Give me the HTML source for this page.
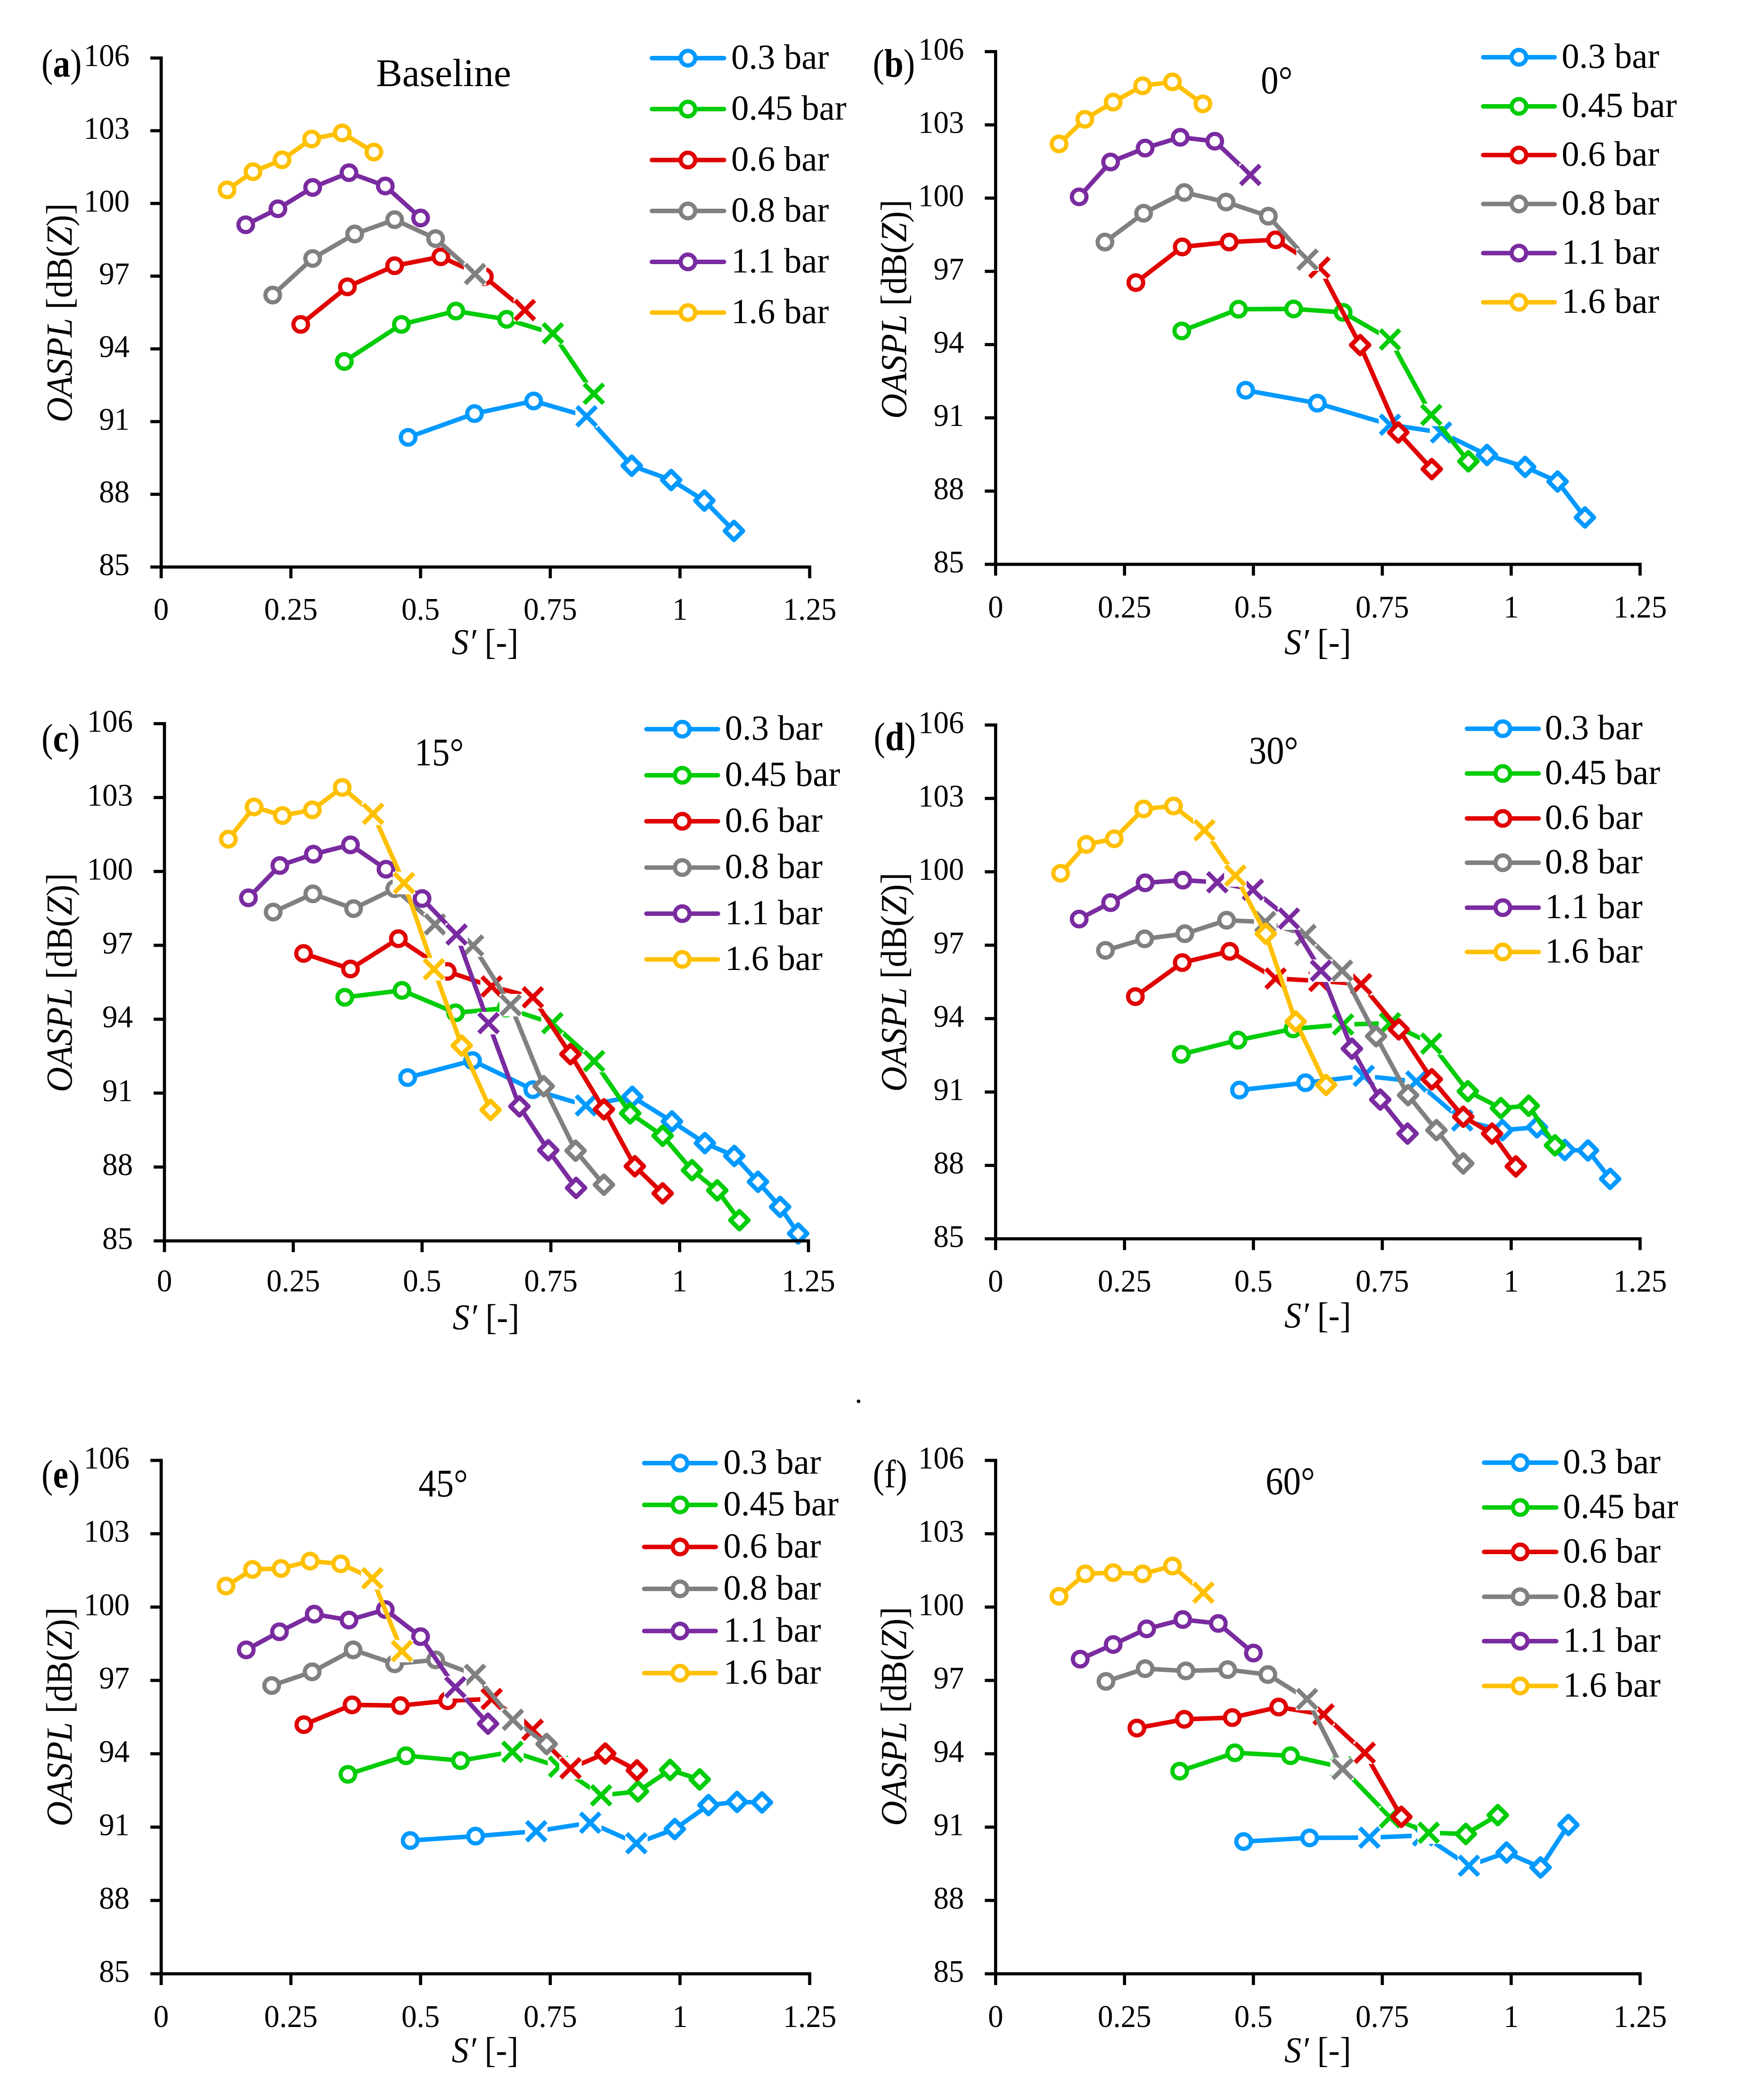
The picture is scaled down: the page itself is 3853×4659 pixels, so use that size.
<!DOCTYPE html>
<html lang="en">
<head>
<meta charset="utf-8">
<title>OASPL versus S′ panels</title>
<style>
html,body{margin:0;padding:0;background:#fff;}
svg{display:block;}
text{font-family:"Liberation Serif","DejaVu Serif",serif;fill:#000;}
</style>
</head>
<body>
<svg id="figure" xmlns="http://www.w3.org/2000/svg" width="3853" height="4659" viewBox="0 0 3853 4659">
<rect x="0" y="0" width="3853" height="4659" fill="#fff"/>

<g font-size="82">
<text transform="translate(92,170) scale(.87,1)" font-size="88">(<tspan font-weight="bold">a</tspan>)</text>
<text x="984" y="191" text-anchor="middle" font-size="87">Baseline</text>
<text transform="translate(159,694) rotate(-90) scale(.94,1)" text-anchor="middle"><tspan font-style="italic">OASPL</tspan> [dB(<tspan font-style="italic">Z</tspan>)]</text>
<text transform="translate(1076,1451) scale(.94,1)" text-anchor="middle" font-size="80"><tspan font-style="italic">S′</tspan> [-]</text>
</g>

<g font-size="82">
<text transform="translate(1936,170) scale(.87,1)" font-size="88">(<tspan font-weight="bold">b</tspan>)</text>
<text transform="translate(2832,207) scale(.9,1)" text-anchor="middle" font-size="87">0°</text>
<text transform="translate(2010,686) rotate(-90) scale(.94,1)" text-anchor="middle"><tspan font-style="italic">OASPL</tspan> [dB(<tspan font-style="italic">Z</tspan>)]</text>
<text transform="translate(2923,1451) scale(.94,1)" text-anchor="middle" font-size="80"><tspan font-style="italic">S′</tspan> [-]</text>
</g>

<g font-size="82">
<text transform="translate(92,1667) scale(.87,1)" font-size="88">(<tspan font-weight="bold">c</tspan>)</text>
<text transform="translate(974,1698) scale(.9,1)" text-anchor="middle" font-size="87">15°</text>
<text transform="translate(159,2180) rotate(-90) scale(.94,1)" text-anchor="middle"><tspan font-style="italic">OASPL</tspan> [dB(<tspan font-style="italic">Z</tspan>)]</text>
<text transform="translate(1078,2949) scale(.94,1)" text-anchor="middle" font-size="80"><tspan font-style="italic">S′</tspan> [-]</text>
</g>

<g font-size="82">
<text transform="translate(1938,1664) scale(.87,1)" font-size="88">(<tspan font-weight="bold">d</tspan>)</text>
<text transform="translate(2825,1694) scale(.9,1)" text-anchor="middle" font-size="87">30°</text>
<text transform="translate(2010,2179) rotate(-90) scale(.94,1)" text-anchor="middle"><tspan font-style="italic">OASPL</tspan> [dB(<tspan font-style="italic">Z</tspan>)]</text>
<text transform="translate(2923,2945) scale(.94,1)" text-anchor="middle" font-size="80"><tspan font-style="italic">S′</tspan> [-]</text>
</g>

<text x="1896" y="3112" font-size="68">.</text>

<g font-size="82">
<text transform="translate(92,3300) scale(.87,1)" font-size="88">(<tspan font-weight="bold">e</tspan>)</text>
<text transform="translate(983,3320) scale(.9,1)" text-anchor="middle" font-size="87">45°</text>
<text transform="translate(159,3809) rotate(-90) scale(.94,1)" text-anchor="middle"><tspan font-style="italic">OASPL</tspan> [dB(<tspan font-style="italic">Z</tspan>)]</text>
<text transform="translate(1076,4575) scale(.94,1)" text-anchor="middle" font-size="80"><tspan font-style="italic">S′</tspan> [-]</text>
</g>

<g font-size="82">
<text transform="translate(1936,3300) scale(.87,1)" font-size="88">(f)</text>
<text transform="translate(2862,3315) scale(.9,1)" text-anchor="middle" font-size="87">60°</text>
<text transform="translate(2010,3808) rotate(-90) scale(.94,1)" text-anchor="middle"><tspan font-style="italic">OASPL</tspan> [dB(<tspan font-style="italic">Z</tspan>)]</text>
<text transform="translate(2923,4575) scale(.94,1)" text-anchor="middle" font-size="80"><tspan font-style="italic">S′</tspan> [-]</text>
</g>
</svg>

<script>
// Shared categories and ticks
const pressureLabels = ['0.3 bar','0.45 bar','0.6 bar','0.8 bar','1.1 bar','1.6 bar'];
const xTickValues = [0,0.25,0.5,0.75,1,1.25];
const xTickLabels = ['0','0.25','0.5','0.75','1','1.25'];
const yTickValues = [85,88,91,94,97,100,103,106];
const yTickLabels = ['85','88','91','94','97','100','103','106'];

// Panel (a) Baseline
const panelA_x = [
 [.476,.604,.718,.820,.907,.983,1.047,1.104],
 [.353,.463,.568,.666,.755,.834],
 [.269,.359,.450,.539,.623,.701],
 [.215,.292,.373,.450,.529,.605],
 [.163,.225,.292,.362,.432,.500],
 [.127,.177,.233,.290,.349,.410]];
const panelA_y = [
 [90.35,91.33,91.85,91.22,89.18,88.59,87.74,86.49],
 [93.48,95.01,95.56,95.22,94.64,92.15],
 [95.01,96.56,97.43,97.80,96.98,95.60],
 [96.22,97.73,98.74,99.33,98.55,97.09],
 [99.12,99.78,100.66,101.27,100.72,99.40],
 [100.56,101.31,101.80,102.66,102.91,102.12]];
const panelA_m = ['oooxdddd','ooooxx','ooooox','ooooox','oooooo','oooooo'];

// Panel (b) 0 deg
const panelB_x = [
 [.485,.624,.765,.864,.953,1.027,1.090,1.143],
 [.361,.471,.578,.674,.765,.845,.917],
 [.272,.362,.453,.543,.628,.707,.781,.846],
 [.212,.287,.366,.447,.529,.605],
 [.162,.223,.290,.358,.425,.494],
 [.123,.173,.228,.285,.343,.402]];
const panelB_y = [
 [92.13,91.60,90.72,90.40,89.48,88.99,88.39,86.92],
 [94.56,95.45,95.46,95.32,94.21,91.12,89.22],
 [96.54,98.00,98.20,98.29,97.16,93.98,90.40,88.90],
 [98.20,99.38,100.23,99.84,99.26,97.48],
 [100.05,101.48,102.05,102.49,102.33,100.95],
 [102.22,103.23,103.93,104.60,104.76,103.86]];
const panelB_m = ['ooxxdddd','ooooxxd','ooooxddd','ooooox','ooooox','oooooo'];

// Panel (c) 15 deg
const panelC_x = [
 [.472,.598,.715,.818,.908,.985,1.049,1.106,1.152,1.195,1.230],
 [.350,.461,.565,.663,.753,.834,.904,.967,1.024,1.073,1.116],
 [.270,.361,.454,.549,.635,.715,.788,.853,.913,.967],
 [.211,.288,.367,.447,.525,.599,.672,.736,.798,.853],
 [.163,.224,.289,.361,.430,.500,.567,.629,.689,.745,.799],
 [.124,.174,.229,.287,.345,.405,.465,.523,.577,.633]];
const panelC_y = [
 [91.63,92.32,91.14,90.50,90.85,89.85,88.97,88.45,87.40,86.38,85.30],
 [94.89,95.17,94.26,94.45,93.84,92.30,90.18,89.27,87.87,87.05,85.84],
 [96.67,96.04,97.27,95.94,95.33,94.89,92.58,90.34,88.03,86.93],
 [98.35,99.09,98.49,99.30,97.85,96.99,94.57,91.28,88.66,87.28],
 [98.93,100.24,100.70,101.08,100.09,98.90,97.44,93.84,90.46,88.68,87.15],
 [101.31,102.62,102.27,102.50,103.41,102.34,99.53,96.03,92.93,90.32]];
const panelC_m = ['oooxddddddd','ooooxxddddd','ooooxxdddd','ooooxxxddd','ooooooxxddd','oooooxxxdd'];

// Panel (d) 30 deg
const panelD_x = [
 [.473,.601,.714,.816,.905,.983,1.050,1.104,1.149,1.192],
 [.360,.470,.577,.674,.765,.845,.916,.980,1.034,1.085],
 [.271,.362,.454,.543,.628,.709,.782,.846,.907,.963,1.009],
 [.213,.289,.367,.448,.523,.601,.672,.738,.800,.855,.907],
 [.162,.223,.290,.363,.430,.499,.569,.631,.691,.746,.799],
 [.126,.176,.230,.287,.345,.405,.465,.524,.582,.641]];
const panelD_y = [
 [91.08,91.38,91.66,91.43,89.84,89.44,89.56,88.63,88.61,87.45],
 [92.54,93.12,93.58,93.76,93.81,92.98,91.03,90.34,90.44,88.82],
 [94.90,96.29,96.75,95.64,95.54,95.41,93.56,91.52,89.99,89.30,87.96],
 [96.79,97.26,97.47,98.02,97.95,97.42,95.96,93.28,90.87,89.44,88.08],
 [98.07,98.74,99.55,99.66,99.57,99.27,98.09,95.96,92.77,90.69,89.30],
 [99.94,101.12,101.35,102.57,102.69,101.70,99.85,97.47,93.88,91.29]];
const panelD_m = ['ooxxxddddd','oooxxxdddd','oooxxxddddd','ooooxxxdddd','ooooxxxxddd','oooooxxddd'];

// Panel (e) 45 deg
const panelE_x = [
 [.480,.606,.723,.827,.916,.990,1.055,1.110,1.158],
 [.360,.472,.577,.677,.767,.848,.919,.981,1.038],
 [.275,.368,.461,.552,.637,.716,.789,.856,.917],
 [.213,.291,.370,.450,.529,.605,.678,.743],
 [.164,.228,.295,.362,.432,.500,.567,.630],
 [.125,.176,.231,.287,.346,.407,.464]];
const panelE_y = [
 [90.45,90.63,90.83,91.18,90.34,90.92,91.90,92.03,92.01],
 [93.16,93.92,93.72,94.08,93.47,92.30,92.46,93.34,92.95],
 [95.19,96.00,95.97,96.17,96.24,94.98,93.41,94.01,93.32],
 [96.79,97.35,98.25,97.68,97.84,97.23,95.39,94.40],
 [98.25,98.99,99.71,99.47,99.90,98.79,96.72,95.23],
 [100.86,101.54,101.58,101.88,101.77,101.18,98.20]];
const panelE_m = ['ooxxxdddd','oooxxxddd','ooooxxxdd','oooooxxd','ooooooxd','oooooxx'];

// Panel (f) 60 deg
const panelF_x = [
 [.481,.609,.725,.829,.918,.991,1.057,1.111],
 [.357,.464,.572,.671,.765,.840,.912,.974],
 [.274,.366,.459,.549,.636,.716,.787],
 [.214,.290,.369,.450,.528,.604,.673],
 [.164,.228,.293,.363,.432,.500],
 [.123,.174,.228,.285,.343,.403]];
const panelF_y = [
 [90.41,90.56,90.57,90.66,89.42,89.96,89.35,91.09],
 [93.29,94.04,93.92,93.45,91.40,90.77,90.72,91.49],
 [95.05,95.41,95.48,95.91,95.61,94.04,91.42],
 [96.96,97.48,97.39,97.44,97.24,96.24,93.38],
 [97.87,98.47,99.11,99.49,99.33,98.12],
 [100.44,101.36,101.41,101.36,101.68,100.59]];
const panelF_m = ['ooxxxddd','oooxxxdd','ooooxxd','oooooxx','oooooo','ooooox'];

// Styling and layout (not data)
const seriesColors = ['#0099ff','#00cc08','#e00000','#808080','#7a2ba0','#ffc000'];
const STROKE = 10;
const SVG_NS = 'http://www.w3.org/2000/svg';
const svg = document.getElementById('figure');

const panels = [
 {id:'a',xs:panelA_x,ys:panelA_y,ms:panelA_m,x0:357.5,x1:1796,yTop:128.7,yBot:1258,labelGap:117,
  legLine:[1443,1609],legText:1622,legY:[129,242,355,468,581,693.5]},
 {id:'b',xs:panelB_x,ys:panelB_y,ms:panelB_m,x0:2208.5,x1:3638,yTop:114.5,yBot:1252,labelGap:118,
  legLine:[3287,3451.5],legText:3464,legY:[127,236,344,452.5,561.5,670.6]},
 {id:'c',xs:panelC_x,ys:panelC_y,ms:panelC_m,x0:364.8,x1:1793.3,yTop:1605.5,yBot:2753,labelGap:112,
  legLine:[1431,1595.6],legText:1608,legY:[1617.7,1720,1822,1924.7,2027,2128.5]},
 {id:'d',xs:panelD_x,ys:panelD_y,ms:panelD_m,x0:2208.5,x1:3638,yTop:1608.5,yBot:2748.4,labelGap:117,
  legLine:[3251,3416],legText:3427,legY:[1616.7,1716,1815.7,1914,2013.7,2112]},
 {id:'e',xs:panelE_x,ys:panelE_y,ms:panelE_m,x0:357.5,x1:1796,yTop:3240,yBot:4379,labelGap:118,
  legLine:[1426,1590.6],legText:1604.6,legY:[3246,3338.7,3432,3525,3618.5,3712]},
 {id:'f',xs:panelF_x,ys:panelF_y,ms:panelF_m,x0:2208.5,x1:3638,yTop:3240,yBot:4379,labelGap:118,
  legLine:[3289,3455],legText:3467,legY:[3245,3344.5,3443,3542.5,3641,3740.4]}
];

function make(tag, parent, attrs) {
  const el = document.createElementNS(SVG_NS, tag);
  for (const k in attrs) el.setAttribute(k, attrs[k]);
  parent.appendChild(el);
  return el;
}
function xScale(p, v) { return p.x0 + (v / 1.25) * (p.x1 - p.x0); }
function yScale(p, v) { return p.yBot - ((v - 85) / 21) * (p.yBot - p.yTop); }

function drawCircle(parent, cx, cy, color, name) {
  const el = make('circle', parent, {cx:cx, cy:cy, r:16.2, fill:'#fff', stroke:color, 'stroke-width':9.3});
  
  
}
function drawDiamond(parent, cx, cy, color, name) {
  const r = 20;
  const pts = [[cx,cy-r],[cx+r,cy],[cx,cy+r],[cx-r,cy]].map(q => q.join(',')).join(' ');
  const el = make('polygon', parent, {points:pts, fill:'#fff', stroke:color, 'stroke-width':STROKE, 'stroke-linejoin':'round'});
  
  
}
function drawCross(parent, cx, cy, color, name) {
  const g = make('g', parent, {});
  
  
  make('rect', g, {x:cx-25, y:cy-25, width:50, height:50, fill:'#fff'});
  const h = 21.5;
  make('path', g, {d:`M${cx-h} ${cy-h}L${cx+h} ${cy+h}M${cx-h} ${cy+h}L${cx+h} ${cy-h}`, stroke:color, 'stroke-width':STROKE, fill:'none'});
}

panels.forEach(function (p) {
  const group = make('g', svg, {});
  
  

  // Series
  p.xs.forEach(function (xArr, si) {
    const color = seriesColors[si];
    const sg = make('g', group, {});
    
    
    const pts = xArr.map((v, i) => xScale(p, v).toFixed(1) + ',' + yScale(p, p.ys[si][i]).toFixed(1)).join(' ');
    const line = make('polyline', sg, {points:pts, fill:'none', stroke:color, 'stroke-width':STROKE, 'stroke-linejoin':'round', 'stroke-linecap':'round'});
    
    
    xArr.forEach(function (v, i) {
      const cx = xScale(p, v), cy = yScale(p, p.ys[si][i]);
      const kind = p.ms[si][i];
      if (kind === 'x') drawCross(sg, cx, cy, color, 'cross-marker');
      else if (kind === 'd') drawDiamond(sg, cx, cy, color, 'diamond-marker');
      else drawCircle(sg, cx, cy, color, 'circle-marker');
    });
  });

  // Axes
  const axisY = make('line', group, {x1:p.x0, y1:p.yTop-3.5, x2:p.x0, y2:p.yBot+3.5, stroke:'#000', 'stroke-width':7});
  
  
  const axisX = make('line', group, {x1:p.x0-3.5, y1:p.yBot, x2:p.x1+3.5, y2:p.yBot, stroke:'#000', 'stroke-width':7});
  
  

  yTickValues.forEach(function (v, i) {
    const y = yScale(p, v);
    const tick = make('line', group, {x1:p.x0-24, y1:y, x2:p.x0, y2:y, stroke:'#000', 'stroke-width':7});
    
    
    const t = make('text', group, {transform:`translate(${p.x0-70},${y+18}) scale(.97,1)`, 'text-anchor':'end', 'font-size':70});
    
    
    t.textContent = yTickLabels[i];
  });
  xTickValues.forEach(function (v, i) {
    const x = xScale(p, v);
    const tick = make('line', group, {x1:x, y1:p.yBot, x2:x, y2:p.yBot+25, stroke:'#000', 'stroke-width':7});
    
    
    const t = make('text', group, {transform:`translate(${x},${p.yBot+p.labelGap}) scale(.97,1)`, 'text-anchor':'middle', 'font-size':70});
    
    
    t.textContent = xTickLabels[i];
  });

  // Legend
  const lg = make('g', group, {});
  
  
  pressureLabels.forEach(function (label, i) {
    const y = p.legY[i];
    const entry = make('g', lg, {});
    
    
    make('line', entry, {x1:p.legLine[0]+3, y1:y, x2:p.legLine[1]-3, y2:y, stroke:seriesColors[i], 'stroke-width':STROKE, 'stroke-linecap':'round'});
    drawCircle(entry, (p.legLine[0] + p.legLine[1]) / 2, y, seriesColors[i], 'legend-marker');
    const t = make('text', entry, {x:p.legText, y:y+23.5, 'font-size':78});
    
    
    t.textContent = label;
  });
});
</script>
</body>
</html>
